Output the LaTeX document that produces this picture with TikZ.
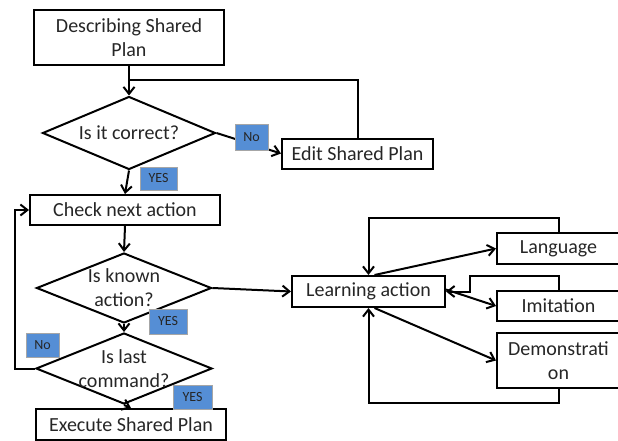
\documentclass[tikz,border=0pt]{standalone}
\usepackage{fontspec}
\setmainfont{Carlito}
\usetikzlibrary{shapes.geometric, arrows.meta}

\definecolor{tagblue}{RGB}{85,142,213}

\begin{document}
\begin{tikzpicture}[x=1pt, y=-1pt, line width=2pt, >={Straight Barb[length=7pt,width=11pt]},
    box/.style={rectangle, draw, inner sep=2pt, text=black!85, font=\fontsize{20}{24}\selectfont, align=center},
    dia/.style={diamond, draw, inner sep=0pt},
    txt/.style={text=black!85, font=\fontsize{20}{24}\selectfont, align=center},
    tag/.style={rectangle, draw=black!35, line width=0.6pt, fill=tagblue, text=black!85, font=\fontsize{14}{15}\selectfont, inner sep=0pt}]
      \useasboundingbox (0,0) rectangle (618,441);
      \clip (0,0) rectangle (618,441);

      % main flow
      \node[box, minimum width=190pt, minimum height=55pt] (desc) at (129,37.5) {Describing Shared\\Plan};
      \node[dia, minimum width=173pt, minimum height=73pt, label={[txt]center:Is it correct?}] (correct) at (129,133) {};
      \node[box, minimum width=151pt, minimum height=30pt] (edit) at (357.5,153.5) {Edit Shared Plan};
      \node[box, minimum width=190pt, minimum height=30pt] (check) at (125,210) {Check next action};
      \node[dia, minimum width=175pt, minimum height=70pt, label={[txt]center:Is known\\action?}] (known) at (124,288) {};
      \node[dia, minimum width=176pt, minimum height=71pt, label={[txt]center:Is last\\command?}] (last) at (124,368.5) {};
      \node[box, minimum width=190pt, minimum height=31pt] (exec) at (131,424.5) {Execute Shared Plan};

      % learning part
      \node[box, minimum width=153pt, minimum height=31pt] (learn) at (368.5,291.5) {Learning action};
      \node[box, minimum width=123pt, minimum height=31pt] (lang) at (558.5,248.5) {Language};
      \node[box, minimum width=123pt, minimum height=30pt] (imit) at (558.5,306) {Imitation};
      \node[box, minimum width=123pt, minimum height=55pt] (demo) at (558.5,360.5) {Demonstrati\\on};

      \coordinate (join) at (129,80);
      \coordinate (noL) at (15,368.5);
      \coordinate (topL) at (368.5,218);
      \coordinate (imiL) at (470,276);
      \coordinate (botL) at (368.5,403);

      \draw[->] (desc) -- (correct);
      \draw (edit.north) |- (join);
      \draw[->] (correct.east) -- (edit.west);
      \draw[->] (correct.south) -- (check.north);
      \draw[->] (check.south) -- (known.north);
      \draw[->] (known.south) -- (last.north);
      \draw[->] (last.south) -- (exec.north);
      \draw[->] (last.west) -- (noL) |- (check.west);
      \draw[->] (known.east) -- (learn.west);

      \draw[->] ([xshift=6pt]learn.north) -- (lang.west);
      \draw[->] ([yshift=2pt]learn.east) -- (imit.west);
      \draw[->] ([xshift=6pt]learn.south) -- (demo.west);
      \draw[->] (lang.north) |- (topL) -- (learn.north);
      \draw[->] (imit.north) |- (imiL) |- (learn.east);
      \draw[->] (demo.south) |- (botL) -- (learn.south);

      % yes / no tags
      \node[tag, minimum width=33pt, minimum height=26pt] (no1) at (251.5,137) {No};
      \node[tag, minimum width=37pt, minimum height=23pt] (yes1) at (158.5,178.5) {YES};
      \node[tag, minimum width=38pt, minimum height=25pt] (yes2) at (168,321.5) {YES};
      \node[tag, minimum width=33pt, minimum height=24pt] (no2) at (42.5,345) {No};
      \node[tag, minimum width=39pt, minimum height=24pt] (yes3) at (192.5,397) {YES};
    \end{tikzpicture}
\end{document}
